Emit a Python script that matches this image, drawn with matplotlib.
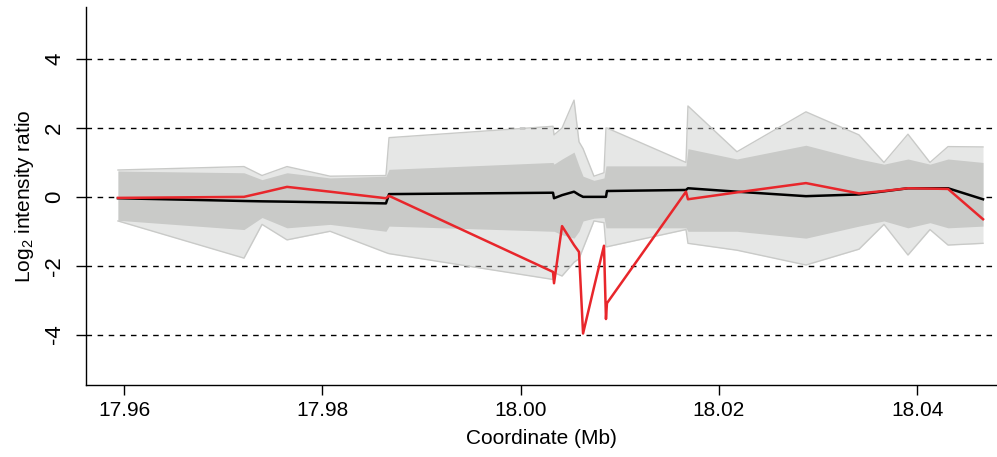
import numpy as np
import matplotlib
matplotlib.use("Agg")
import matplotlib.pyplot as plt

plt.rcParams["font.family"] = ["Liberation Sans", "DejaVu Sans"]
plt.rcParams["mathtext.default"] = "regular"

# probe coordinates (Mb)
probe_mb = [17.95939, 17.97210, 17.97392, 17.97644, 17.98078, 17.98642, 17.98673,
            18.00327, 18.00337, 18.00418, 18.00539, 18.00589, 18.00630, 18.00740,
            18.00841, 18.00861, 18.00871, 18.01668, 18.01688, 18.02182, 18.02878,
            18.03413, 18.03665, 18.03907, 18.04129, 18.04311, 18.04664]

# grey cloud of all samples: outer extremes and dense core
grey_out_hi = [0.78, 0.88, 0.62, 0.88, 0.60, 0.62, 1.72,
               2.05, 1.80, 2.00, 2.81, 1.60, 1.40, 0.60,
               0.70, 2.00, 2.00, 1.00, 2.64, 1.31, 2.47,
               1.80, 1.00, 1.82, 1.00, 1.46, 1.45]
grey_core_hi = [0.75, 0.70, 0.50, 0.70, 0.55, 0.60, 0.80,
                1.00, 0.95, 1.10, 1.30, 0.90, 0.60, 0.48,
                0.55, 0.90, 0.90, 0.90, 1.40, 1.10, 1.50,
                1.10, 0.95, 1.10, 0.95, 1.10, 1.00]
grey_core_lo = [-0.68, -0.95, -0.60, -0.90, -0.80, -1.00, -0.85,
                -1.00, -1.00, -1.10, -1.20, -1.00, -0.70, -0.62,
                -0.60, -0.90, -0.90, -0.90, -1.00, -1.00, -1.20,
                -0.85, -0.70, -0.90, -0.75, -0.90, -0.85]
grey_out_lo = [-0.70, -1.78, -0.80, -1.25, -1.00, -1.62, -1.65,
               -2.40, -2.20, -2.30, -1.90, -1.80, -1.50, -0.70,
               -0.75, -1.45, -1.45, -0.95, -1.35, -1.55, -1.98,
               -1.52, -0.80, -1.69, -0.95, -1.40, -1.35]

# highlighted sample (red) and median (black)
red_vals = [-0.03, 0.00, 0.12, 0.29, 0.15, -0.04, 0.03,
            -2.18, -2.51, -0.85, -1.40, -1.60, -3.97, -2.63,
            -1.42, -3.55, -3.09, 0.15, -0.07, 0.13, 0.40,
            0.10, 0.17, 0.25, 0.24, 0.23, -0.65]
black_vals = [-0.04, -0.12, -0.13, -0.14, -0.16, -0.19, 0.08,
              0.12, -0.04, 0.05, 0.15, 0.06, 0.00, 0.00,
              0.00, 0.00, 0.17, 0.20, 0.25, 0.15, 0.02,
              0.07, 0.16, 0.25, 0.25, 0.25, -0.07]

yticks = [-4, -2, 0, 2, 4]
xticks = [17.96, 17.98, 18.00, 18.02, 18.04]

grey = "#c9cac8"

fig = plt.figure(figsize=(9.97, 4.57), dpi=100)
ax = fig.add_axes([0.0863, 0.158, 0.9137, 0.827])

for y in yticks:
    ax.axhline(y, color="black", lw=1.0, ls=(0, (4, 4)), zorder=1)

# sparse outer lines, then the dense middle of the cloud
ax.fill_between(probe_mb, grey_out_lo, grey_out_hi, color=grey, alpha=0.45, lw=0, zorder=2)
ax.fill_between(probe_mb, grey_core_lo, grey_core_hi, color=grey, lw=0, zorder=2)
ax.plot(probe_mb, grey_out_hi, color=grey, lw=1.0, zorder=2)
ax.plot(probe_mb, grey_out_lo, color=grey, lw=1.0, zorder=2)

ax.plot(probe_mb, black_vals, color="black", lw=1.8, zorder=3)
ax.plot(probe_mb, red_vals, color="#e8262b", lw=1.8, zorder=4)

ax.set_xlim(17.95617, 18.04805)
ax.set_ylim(-5.46, 5.52)

ax.spines["top"].set_visible(False)
ax.spines["right"].set_visible(False)
ax.spines["left"].set_linewidth(1.0)
ax.spines["bottom"].set_linewidth(1.0)

ax.set_xticks(xticks)
ax.set_xticklabels([f"{v:.2f}" for v in xticks], fontsize=15)
ax.set_yticks(yticks)
ax.set_yticklabels([str(v) for v in yticks], fontsize=16, rotation=90, va="center")
ax.tick_params(direction="out", length=7, width=1.0, pad=5)
ax.tick_params(axis="y", pad=8)

ax.set_xlabel("Coordinate (Mb)", fontsize=15, labelpad=6)
ax.set_ylabel("Log$_2$ intensity ratio", fontsize=15, labelpad=6)

fig.savefig("out.png", dpi=100)
